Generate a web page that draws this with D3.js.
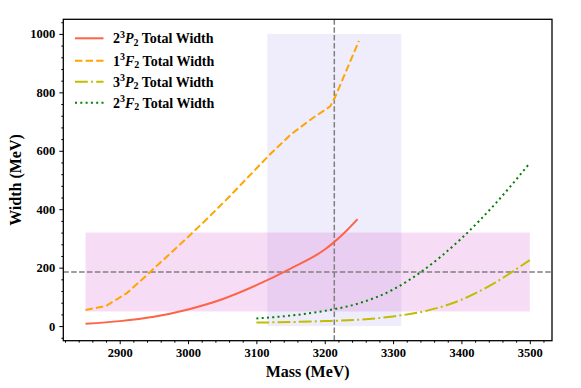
<!DOCTYPE html>
<html><head><meta charset="utf-8">
<script src="https://cdn.jsdelivr.net/npm/d3@7"></script>
<style>body{margin:0;background:#fff}svg{display:block}</style>
</head><body><svg id="c" width="581" height="388"></svg>
<script>
// ---- data ----
const massP23 = [2850,2900,2950,3000,3050,3100,3150,3200,3212,3230,3248];
const widthP23 = [8,17,32,57,92,140,197,262,284,322,366];
const massF13 = [2850,2880,2910,2940,2970,3000,3030,3060,3090,3120,3150,3180,3208,3215,3250];
const widthF13 = [55,69,112,175,240,305,372,442,515,588,655,708,752,783,976];
const massP33 = [3100,3150,3200,3250,3300,3350,3400,3450,3500];
const widthP33 = [12,14,17,22,33,53,90,150,226];
const massF23 = [3100,3150,3200,3250,3300,3340,3400,3450,3500];
const widthF23 = [26,36,52,78,125,184,300,420,558];
const xTicks = [2900,3000,3100,3200,3300,3400,3500];
const yTicks = [0,200,400,600,800,1000];
const massRef = 3214, massErr = 98;       // vertical band
const widthRef = 185, widthErr = 135;     // horizontal band
const bandX = [2850,3500];
const bandY = [0,1000];
const seriesNames = ["2|3|P|2","1|3|F|2","3|3|P|2","2|3|F|2"];

const L = 63.3, R = 552, T = 19.3, B = 340.7;
const svg = d3.select("#c");
const x = d3.scaleLinear().domain([2817.5,3532.5]).range([L,R]);
const y = d3.scaleLinear().domain([-50,1050]).range([B,T]);
const font = "'Liberation Serif','Times New Roman',serif";

// bands
svg.append("rect").attr("x",x(massRef-massErr)).attr("y",y(bandY[1]))
  .attr("width",x(massRef+massErr)-x(massRef-massErr)).attr("height",y(bandY[0])-y(bandY[1]))
  .attr("fill","rgba(140,120,225,0.14)");
svg.append("rect").attr("x",x(bandX[0])).attr("y",y(widthRef+widthErr))
  .attr("width",x(bandX[1])-x(bandX[0])).attr("height",y(widthRef-widthErr)-y(widthRef+widthErr))
  .attr("fill","rgba(218,112,214,0.24)");

// reference lines
svg.append("line").attr("x1",x(massRef)).attr("x2",x(massRef)).attr("y1",T).attr("y2",B)
  .attr("stroke","#808080").attr("stroke-width",1.5).attr("stroke-dasharray","5.5,2.4");
svg.append("line").attr("x1",L).attr("x2",R).attr("y1",y(widthRef)).attr("y2",y(widthRef))
  .attr("stroke","#808080").attr("stroke-width",1.5).attr("stroke-dasharray","5.5,2.4");

// series
const series = [
  {m:massP23,w:widthP23,c:"#ff6347",d:null,curve:d3.curveMonotoneX},
  {m:massF13,w:widthF13,c:"#ffa500",d:"7.4,3.2",curve:d3.curveLinear},
  {m:massP33,w:widthP33,c:"#bfbf00",d:"12.8,3.2,2,3.2",curve:d3.curveMonotoneX},
  {m:massF23,w:widthF23,c:"#008000",d:"2,3.3",curve:d3.curveMonotoneX}
];
series.forEach(s=>{
  const line = d3.line().x(d=>x(d[0])).y(d=>y(d[1])).curve(s.curve);
  svg.append("path").datum(s.m.map((v,i)=>[v,s.w[i]])).attr("d",line)
    .attr("fill","none").attr("stroke",s.c).attr("stroke-width",2)
    .attr("stroke-dasharray",s.d);
});

// axes
svg.append("g").attr("transform",`translate(0,${B})`)
  .call(d3.axisBottom(x).tickValues(xTicks).tickSize(3.5).tickPadding(4).tickFormat(d3.format("d")));
svg.append("g").attr("transform",`translate(0,${B})`)
  .call(d3.axisBottom(x).tickValues(d3.range(2820,3531,20).filter(v=>v%100!==0)).tickSize(2).tickFormat(""));
svg.append("g").attr("transform",`translate(${L},0)`)
  .call(d3.axisLeft(y).tickValues(yTicks).tickSize(4).tickPadding(4).tickFormat(d3.format("d")));
svg.append("g").attr("transform",`translate(${L},0)`)
  .call(d3.axisLeft(y).tickValues(d3.range(-40,1041,40).filter(v=>v%200!==0)).tickSize(2).tickFormat(""));
svg.selectAll(".tick text").attr("font-family",font).attr("font-weight","bold").attr("font-size",12.5).attr("fill","#000");
svg.selectAll(".tick line").attr("stroke","#000").attr("stroke-width",1);
svg.selectAll(".domain").remove();

// frame
svg.append("rect").attr("x",L).attr("y",T).attr("width",R-L).attr("height",B-T)
  .attr("fill","none").attr("stroke","#000").attr("stroke-width",1.3);

// axis labels
svg.append("text").attr("x",(L+R)/2).attr("y",377).attr("text-anchor","middle")
  .attr("font-family",font).attr("font-weight","bold").attr("font-size",16).text("Mass (MeV)");
svg.append("text").attr("transform",`translate(21,${(T+B)/2}) rotate(-90)`).attr("text-anchor","middle")
  .attr("font-family",font).attr("font-weight","bold").attr("font-size",16).text("Width (MeV)");

// legend
const legY = [38.3,60.7,81.7,102.7];
series.forEach((s,i)=>{
  svg.append("line").attr("x1",75).attr("x2",103.5).attr("y1",legY[i]).attr("y2",legY[i])
    .attr("stroke",s.c).attr("stroke-width",2).attr("stroke-dasharray",s.d);
  const p = seriesNames[i].split("|");
  const t = svg.append("text").attr("x",113).attr("y",legY[i]+4.8)
    .attr("font-family",font).attr("font-weight","bold").attr("font-size",14);
  t.append("tspan").text(p[0]);
  t.append("tspan").attr("font-size",10).attr("dy",-5.5).text(p[1]);
  t.append("tspan").attr("font-style","italic").attr("dy",5.5).text(p[2]);
  t.append("tspan").attr("font-size",10).attr("dy",2.5).text(p[3]);
  t.append("tspan").attr("dy",-2.5).text(" Total Width");
});
</script></body></html>
